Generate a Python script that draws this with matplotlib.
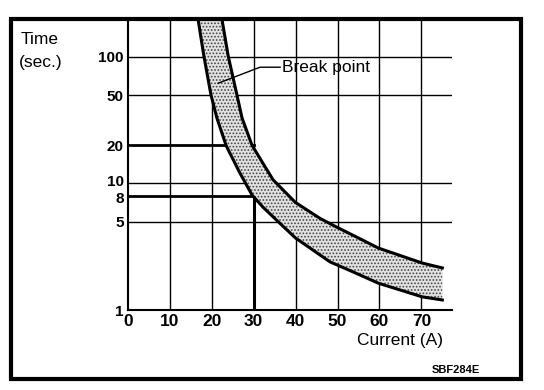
import matplotlib.pyplot as plt
from matplotlib.patches import Rectangle
from matplotlib.transforms import ScaledTranslation

# === DATA ===
x_ticks = [0, 10, 20, 30, 40, 50, 60, 70]
y_ticks = [1, 5, 8, 10, 20, 50, 100]
y_grid = [5, 10, 50, 100]

# band edges: fast (lower) and slow (upper) blow curves
lower_i = [16.7, 18.1, 19.8, 21.2, 23.4, 24.3, 26.7, 29.6, 32.2, 35.8, 40.0, 48.2, 53.7, 59.7, 70.2, 75.0]
lower_t = [200, 102, 50, 33, 20, 17.4, 12.1, 8.1, 6.5, 5.0, 3.7, 2.4, 2.0, 1.63, 1.27, 1.2]
upper_i = [22.4, 23.9, 26.0, 27.2, 29.6, 34.6, 39.9, 45.8, 49.9, 55.4, 59.7, 70.2, 75.0]
upper_t = [200, 102, 50, 33, 20, 10.7, 7.1, 5.3, 4.5, 3.65, 3.09, 2.35, 2.15]

ref_i = 30
ref_t = [8, 20]

W, H = 544, 390

# === FIGURE ===
plt.rcParams['font.family'] = ['Liberation Sans', 'DejaVu Sans']
plt.rcParams['hatch.color'] = '#444444'
plt.rcParams['hatch.linewidth'] = 0.8
fig = plt.figure(figsize=(W / 100, H / 100), dpi=100)
ax = fig.add_axes([128 / W, 1 - 310 / H, (452 - 128) / W, (310 - 20) / H])
ax.set_yscale('log')
ax.set_xlim(0, 77.3)
ax.set_ylim(1, 196)

# grid
for t in y_grid:
    ax.axhline(t, color='black', lw=1, zorder=1)
for x in x_ticks[1:]:
    ax.axvline(x, color='black', lw=1, zorder=1)
for t in ref_t:
    ax.plot([0, ref_i], [t, t], color='black', lw=2, zorder=2)
ax.plot([ref_i, ref_i], [1, min(ref_t)], color='black', lw=2.2, zorder=2)

# band
band_i = lower_i + upper_i[::-1]
band_t = lower_t + upper_t[::-1]
ax.fill(band_i, band_t, facecolor='#e2e2e2', edgecolor='#444444', lw=0,
        hatch='.....', zorder=3)
ax.plot(lower_i, lower_t, color='black', lw=2.2, zorder=4, solid_joinstyle='round')
ax.plot(upper_i, upper_t, color='black', lw=2.2, zorder=4, solid_joinstyle='round')

# break point label
ax.plot([21.5, 31.5, 36.3], [62, 83, 83], color='black', lw=1, zorder=5)
ax.text(36.8, 83, 'Break point', fontsize=12.5, va='center', ha='left', zorder=5)

# axes styling
ax.spines['top'].set_visible(False)
ax.spines['right'].set_visible(False)
ax.spines['left'].set_linewidth(1.5)
ax.spines['bottom'].set_linewidth(1.5)
ax.minorticks_off()
ax.set_xticks(x_ticks)
ax.set_xticklabels([str(v) for v in x_ticks], fontsize=12.5, fontweight='bold')
ax.set_yticks(y_ticks)
ax.set_yticklabels([str(v) for v in y_ticks], fontsize=11, fontweight='bold')
ax.tick_params(length=0, pad=3)

# "10" and "8" sit close together: nudge them apart a little
for lab in ax.get_yticklabels():
    if lab.get_text() == '10':
        lab.set_transform(lab.get_transform() + ScaledTranslation(0, 2 / 72, fig.dpi_scale_trans))
    elif lab.get_text() == '8':
        lab.set_transform(lab.get_transform() + ScaledTranslation(0, -1.5 / 72, fig.dpi_scale_trans))

fig.text(21 / W, 1 - 40 / H, 'Time', fontsize=12.5, va='center', ha='left')
fig.text(19 / W, 1 - 63 / H, '(sec.)', fontsize=12.5, va='center', ha='left')
fig.text(400 / W, 1 - 340 / H, 'Current (A)', fontsize=12.5, va='center', ha='center')
fig.text(456 / W, 1 - 370 / H, 'SBF284E', fontsize=8, fontweight='bold', va='center', ha='center')

fig.add_artist(Rectangle((11 / W, 1 - 379 / H), (521 - 11) / W, (379 - 19) / H,
                         transform=fig.transFigure, fill=False, lw=3, edgecolor='black'))

fig.savefig('out.png', dpi=100)
